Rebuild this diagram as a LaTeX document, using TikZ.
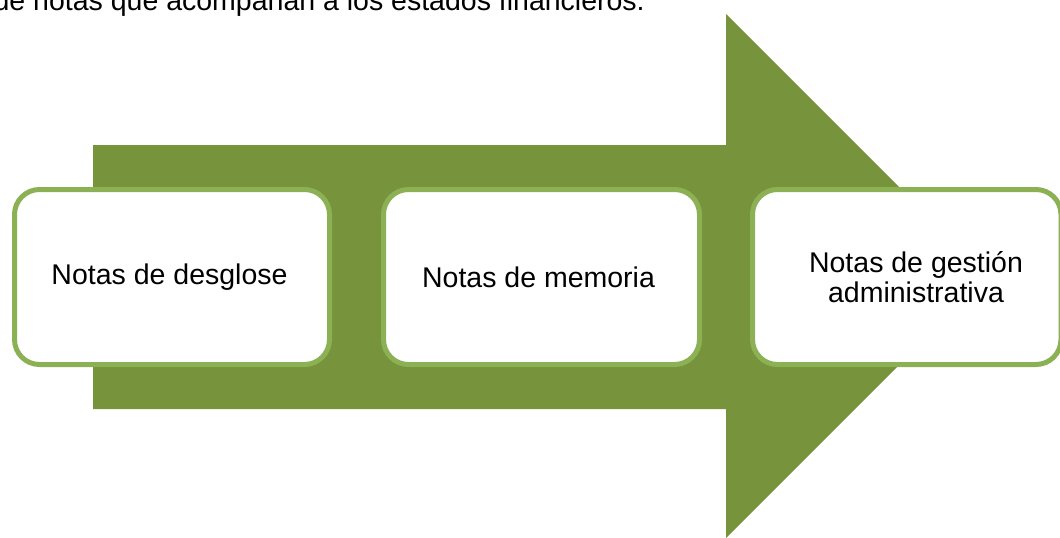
\documentclass[tikz,border=0pt]{standalone}
\usepackage{fontspec}
\setmainfont{Liberation Sans}
\definecolor{arrowgreen}{RGB}{119,147,60}
\definecolor{boxgreen}{RGB}{140,177,84}
\begin{document}
\begin{tikzpicture}[x=1pt,y=-1pt,
  notebox/.style={draw=boxgreen,line width=5pt,fill=white,rounded corners=25pt,inner sep=0pt},
  notetext/.style={font=\fontsize{28.5}{30}\selectfont,align=center,inner sep=0pt,text=black}]
\useasboundingbox (0,0) rectangle (1060,538);
% big arrow
\fill[arrowgreen] (93,145) -- (726,145) -- (726,14) -- (988,276) -- (726,538) -- (726,409) -- (93,409) -- cycle;
% boxes
\draw[notebox] (14.5,189.5) rectangle (329.5,364.5);
\draw[notebox] (383.5,189.5) rectangle (699.5,364.5);
\draw[notebox] (752.5,189.5) rectangle (1061,364.5);
\node[notetext] (t1) at (169.5,277.5) {Notas de desglose};
\node[notetext] (t2) at (538.5,277.5) {Notas de memoria};
\node[notetext] (t3) at (916,276.8) {Notas de gestión\\administrativa};
% clipped heading
\node[font=\fontsize{28.5}{30}\selectfont,anchor=base east,inner sep=0pt] (head) at (645,10) {de notas que acompañan a los estados financieros.};
\end{tikzpicture}
\end{document}
